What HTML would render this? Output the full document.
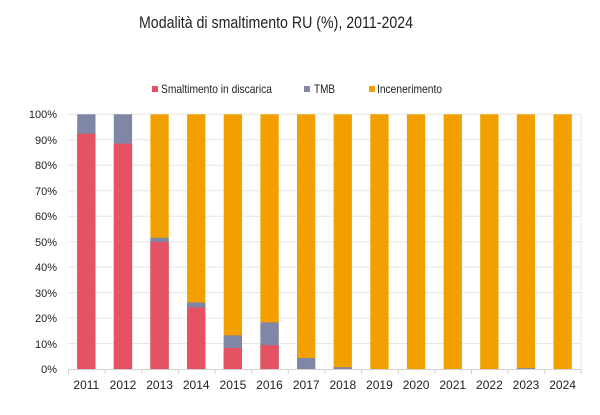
<!DOCTYPE html>
<html><head><meta charset="utf-8"><style>
html,body{margin:0;padding:0;background:#fff;}
svg{display:block;font-family:"Liberation Sans",sans-serif;}
</style></head><body>
<svg width="600" height="415" viewBox="0 0 600 415" xmlns="http://www.w3.org/2000/svg">
<rect width="600" height="415" fill="#fff"/>
<text x="139" y="28" font-size="17" fill="#222" textLength="274" lengthAdjust="spacingAndGlyphs">Modalità di smaltimento RU (%), 2011-2024</text>
<rect x="152" y="86" width="6" height="6" fill="#e45264"/>
<text x="161" y="93" font-size="12" fill="#222" textLength="111" lengthAdjust="spacingAndGlyphs">Smaltimento in discarica</text>
<rect x="304" y="86" width="6" height="6" fill="#7f86a6"/>
<text x="314" y="93" font-size="12" fill="#222" textLength="21" lengthAdjust="spacingAndGlyphs">TMB</text>
<rect x="369" y="86" width="6" height="6" fill="#f2a000"/>
<text x="377" y="93" font-size="12" fill="#222" textLength="65" lengthAdjust="spacingAndGlyphs">Incenerimento</text>
<g stroke="#e6e6e6" stroke-width="1">
<line x1="68" x2="581" y1="114.3" y2="114.3"/><line x1="68" x2="581" y1="139.8" y2="139.8"/>
<line x1="68" x2="581" y1="165.2" y2="165.2"/><line x1="68" x2="581" y1="190.7" y2="190.7"/>
<line x1="68" x2="581" y1="216.2" y2="216.2"/><line x1="68" x2="581" y1="241.7" y2="241.7"/>
<line x1="68" x2="581" y1="267.1" y2="267.1"/><line x1="68" x2="581" y1="292.6" y2="292.6"/>
<line x1="68" x2="581" y1="318.1" y2="318.1"/><line x1="68" x2="581" y1="343.5" y2="343.5"/>
<line x1="581" x2="581" y1="114" y2="369"/>
</g>
<g font-size="11" fill="#222" text-anchor="end">
<text x="57" y="118">100%</text><text x="57" y="144">90%</text><text x="57" y="169">80%</text>
<text x="57" y="195">70%</text><text x="57" y="220">60%</text><text x="57" y="246">50%</text>
<text x="57" y="271">40%</text><text x="57" y="297">30%</text><text x="57" y="322">20%</text>
<text x="57" y="348">10%</text><text x="57" y="373">0%</text>
</g>
<g fill="#f2a000">
<rect x="150.4" y="114.3" width="18.3" height="254.7"/><rect x="187.1" y="114.3" width="18.3" height="254.7"/>
<rect x="223.7" y="114.3" width="18.3" height="254.7"/><rect x="260.4" y="114.3" width="18.3" height="254.7"/>
<rect x="297.0" y="114.3" width="18.3" height="254.7"/><rect x="333.6" y="114.3" width="18.3" height="254.7"/>
<rect x="370.3" y="114.3" width="18.3" height="254.7"/><rect x="406.9" y="114.3" width="18.3" height="254.7"/>
<rect x="443.6" y="114.3" width="18.3" height="254.7"/><rect x="480.2" y="114.3" width="18.3" height="254.7"/>
<rect x="516.8" y="114.3" width="18.3" height="254.7"/><rect x="553.5" y="114.3" width="18.3" height="254.7"/>
</g>
<g fill="#7f86a6">
<rect x="77.2" y="114.3" width="18.3" height="254.7"/><rect x="113.8" y="114.3" width="18.3" height="254.7"/>
<rect x="150.4" y="237.8" width="18.3" height="131.2"/><rect x="187.1" y="302.5" width="18.3" height="66.5"/>
<rect x="223.7" y="335.4" width="18.3" height="33.6"/><rect x="260.4" y="322.4" width="18.3" height="46.6"/>
<rect x="297.0" y="358.0" width="18.3" height="11"/><rect x="333.6" y="367.2" width="18.3" height="1.8"/>
<rect x="516.8" y="368.2" width="18.3" height="0.8"/>
</g>
<g fill="#e45264">
<rect x="77.2" y="133.7" width="18.3" height="235.3"/><rect x="113.8" y="143.6" width="18.3" height="225.4"/>
<rect x="150.4" y="241.9" width="18.3" height="127.1"/><rect x="187.1" y="307.4" width="18.3" height="61.6"/>
<rect x="223.7" y="348.1" width="18.3" height="20.9"/><rect x="260.4" y="345.1" width="18.3" height="23.9"/>
</g>
<g stroke="#d0d0d0" stroke-width="1">
<line x1="68" x2="581" y1="369.5" y2="369.5"/>
<line x1="68.5" x2="68.5" y1="369" y2="374"/><line x1="105.1" x2="105.1" y1="369" y2="374"/>
<line x1="141.8" x2="141.8" y1="369" y2="374"/><line x1="178.4" x2="178.4" y1="369" y2="374"/>
<line x1="215.1" x2="215.1" y1="369" y2="374"/><line x1="251.7" x2="251.7" y1="369" y2="374"/>
<line x1="288.3" x2="288.3" y1="369" y2="374"/><line x1="325" x2="325" y1="369" y2="374"/>
<line x1="361.6" x2="361.6" y1="369" y2="374"/><line x1="398.3" x2="398.3" y1="369" y2="374"/>
<line x1="434.9" x2="434.9" y1="369" y2="374"/><line x1="471.5" x2="471.5" y1="369" y2="374"/>
<line x1="508.2" x2="508.2" y1="369" y2="374"/><line x1="544.8" x2="544.8" y1="369" y2="374"/>
<line x1="581" x2="581" y1="369" y2="374"/>
</g>
<g font-size="12" fill="#222" text-anchor="middle">
<text x="86.3" y="389">2011</text><text x="123" y="389">2012</text><text x="159.6" y="389">2013</text>
<text x="196.2" y="389">2014</text><text x="232.9" y="389">2015</text><text x="269.5" y="389">2016</text>
<text x="306.2" y="389">2017</text><text x="342.8" y="389">2018</text><text x="379.4" y="389">2019</text>
<text x="416.1" y="389">2020</text><text x="452.7" y="389">2021</text><text x="489.4" y="389">2022</text>
<text x="526" y="389">2023</text><text x="562.6" y="389">2024</text>
</g>
</svg>
</body></html>
